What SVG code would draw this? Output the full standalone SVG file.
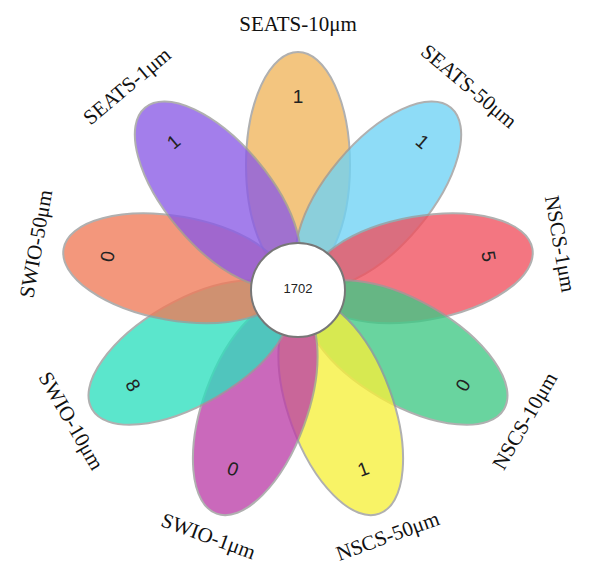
<svg xmlns="http://www.w3.org/2000/svg" width="605" height="571" viewBox="0 0 605 571">
<style>
.p{stroke:#9a9a9a;stroke-width:2;opacity:0.78}
.n{font-family:"Liberation Sans",Arial,sans-serif;font-size:19px;fill:#222;text-anchor:middle;dominant-baseline:middle}
.l{font-family:"Liberation Serif","Times New Roman",serif;font-size:21px;fill:#111;text-anchor:middle;dominant-baseline:middle}
</style>
<rect width="605" height="571" fill="#fff"/>
<g transform="translate(298,290)">
<g id="p-seats10"><ellipse class="p" fill="#F0B55C" cx="0" cy="-125" rx="52" ry="113" transform="rotate(0)"/></g>
<g id="p-seats50"><ellipse class="p" fill="#6FD3F5" cx="0" cy="-125" rx="52" ry="113" transform="rotate(40)"/></g>
<g id="p-nscs1"><ellipse class="p" fill="#F0505E" cx="0" cy="-125" rx="52" ry="113" transform="rotate(80)"/></g>
<g id="p-nscs10"><ellipse class="p" fill="#3FC985" cx="0" cy="-125" rx="52" ry="113" transform="rotate(120)"/></g>
<g id="p-nscs50"><ellipse class="p" fill="#F7F03C" cx="0" cy="-125" rx="52" ry="113" transform="rotate(160)"/></g>
<g id="p-swio1"><ellipse class="p" fill="#BC3FA8" cx="0" cy="-125" rx="52" ry="113" transform="rotate(200)"/></g>
<g id="p-swio10"><ellipse class="p" fill="#2EE0BE" cx="0" cy="-125" rx="52" ry="113" transform="rotate(240)"/></g>
<g id="p-swio50"><ellipse class="p" fill="#F07A58" cx="0" cy="-125" rx="52" ry="113" transform="rotate(280)"/></g>
<g id="p-seats1"><ellipse class="p" fill="#8A5AE6" cx="0" cy="-125" rx="52" ry="113" transform="rotate(320)"/></g>
<g id="numbers">
<text class="n" transform="rotate(0) translate(0,-192)">1</text>
<text class="n" transform="rotate(40) translate(0,-192)">1</text>
<text class="n" transform="rotate(80) translate(0,-192)">5</text>
<text class="n" transform="rotate(120) translate(0,-192) rotate(180)">0</text>
<text class="n" transform="rotate(160) translate(0,-192) rotate(180)">1</text>
<text class="n" transform="rotate(200) translate(0,-192) rotate(180)">0</text>
<text class="n" transform="rotate(240) translate(0,-192) rotate(180)">8</text>
<text class="n" transform="rotate(280) translate(0,-192)">0</text>
<text class="n" transform="rotate(320) translate(0,-192)">1</text>
</g>
<g id="center"><circle r="47" fill="#fff" stroke="#777" stroke-width="2"/>
<text class="n" style="font-size:13px">1702</text></g>
<g id="labels">
<text class="l" transform="rotate(0) translate(0,-264)">SEATS-10μm</text>
<text class="l" transform="rotate(40) translate(0,-264)">SEATS-50μm</text>
<text class="l" transform="rotate(80) translate(0,-264)">NSCS-1μm</text>
<text class="l" transform="rotate(120) translate(0,-264) rotate(180)">NSCS-10μm</text>
<text class="l" transform="rotate(160) translate(0,-264) rotate(180)">NSCS-50μm</text>
<text class="l" transform="rotate(200) translate(0,-264) rotate(180)">SWIO-1μm</text>
<text class="l" transform="rotate(240) translate(0,-264) rotate(180)">SWIO-10μm</text>
<text class="l" transform="rotate(280) translate(0,-264)">SWIO-50μm</text>
<text class="l" transform="rotate(320) translate(0,-264)">SEATS-1μm</text>
</g>
</g>
</svg>
